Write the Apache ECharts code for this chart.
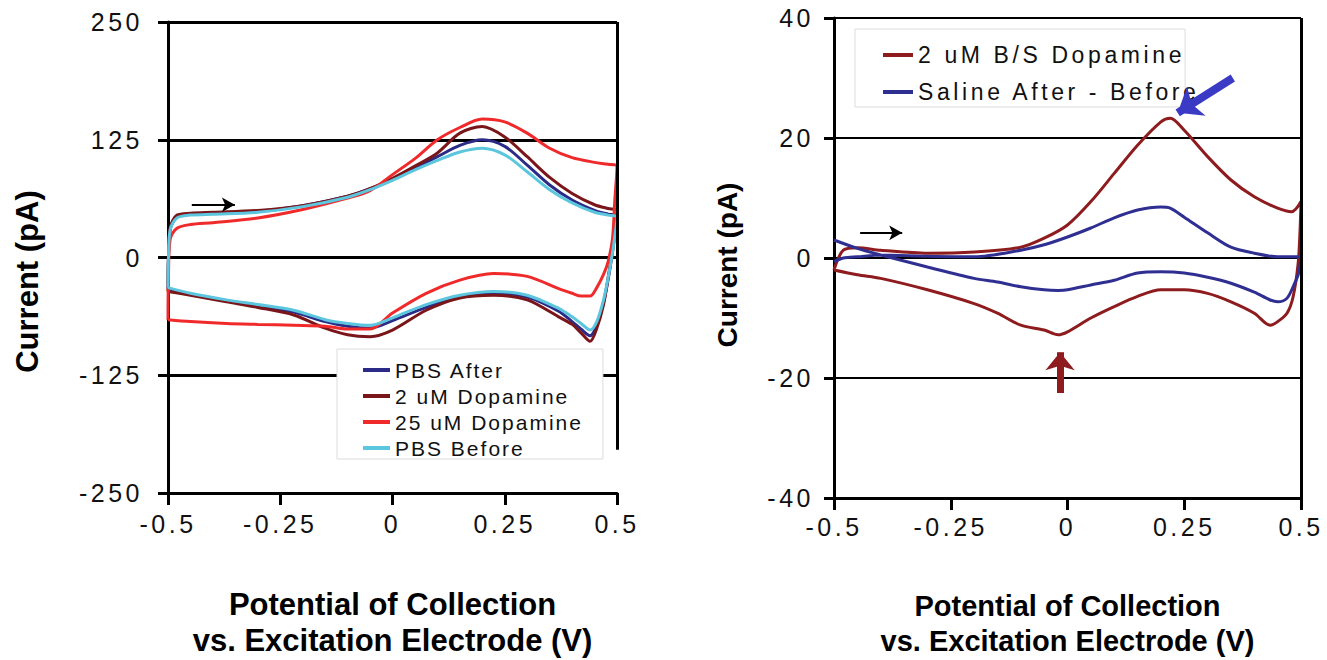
<!DOCTYPE html>
<html>
<head>
<meta charset="utf-8">
<script src="https://cdn.jsdelivr.net/npm/echarts@6/dist/echarts.min.js"></script>
<style>
  html, body { margin: 0; padding: 0; background: #fff; }
  #main { width: 1327px; height: 660px; }
  /* the original tick labels and legends are letter-spaced */
  #main svg text[style*="25px"] { letter-spacing: 3.5px; }
  #main svg text[style*="21px"] { letter-spacing: 2px; }
  #main svg text[style*="23px"] { letter-spacing: 3.6px; }
  #main svg text[style*="bold"] { letter-spacing: 0; }
</style>
</head>
<body>
<div id="main"></div>
<script>
// ---- left panel: potentials (V) of the sweep up and back down
const fwdL = [-0.5, -0.499, -0.495, -0.48, -0.45, -0.4, -0.3, -0.2, -0.1, -0.05, 0, 0.05, 0.1, 0.15, 0.2, 0.25, 0.3, 0.35, 0.4, 0.45, 0.48, 0.5]
const revL = [0.5, 0.495, 0.49, 0.48, 0.47, 0.455, 0.44, 0.42, 0.4, 0.37, 0.3, 0.225, 0.15, 0.075, 0, -0.05, -0.1, -0.15, -0.22, -0.3, -0.37, -0.45, -0.5]

// currents (pA)
const pbsAfterUp = [-32, 0, 30, 43, 46, 47, 49, 55, 65, 73, 83, 95, 107, 119, 125, 118, 98, 77, 61, 50, 46, 44]
const pbsAfterDown = [44, 24, 6, -24, -48, -72, -83, -76, -68, -57, -42, -38, -42, -53, -67, -75, -73, -68, -58, -51, -46, -39, -33]
const dopa2Up = [-36, 0, 32, 45, 47, 48, 50, 55, 65, 73, 84, 97, 111, 132, 139, 128, 107, 85, 68, 56, 52, 50]
const dopa2Down = [50, 28, 8, -22, -50, -75, -89, -80, -71, -63, -45, -40, -43, -56, -77, -84, -82, -75, -61, -53, -47, -40, -36]
const dopa25Up = [-66, -20, 20, 31, 35, 37, 42, 51, 63, 71, 88, 105, 125, 138, 147, 144, 132, 116, 106, 101, 99, 97]
const dopa25Down = [97, 60, 20, -5, -18, -32, -41, -41, -38, -33, -20, -17, -24, -38, -59, -76, -76, -73, -72, -71, -70, -68, -66]
const pbsBeforeUp = [-32, 0, 30, 42, 45, 46, 48, 54, 64, 72, 82, 93, 103, 112, 116, 109, 91, 72, 58, 48, 45, 43]
const pbsBeforeDown = [43, 22, 5, -22, -45, -68, -77, -70, -63, -54, -40, -36, -40, -50, -64, -72, -70, -66, -56, -50, -45, -38, -32]

// ---- right panel
const fwdR = [-0.5, -0.48, -0.45, -0.4, -0.3, -0.2, -0.1, -0.05, 0, 0.05, 0.1, 0.15, 0.2, 0.22, 0.25, 0.3, 0.35, 0.4, 0.45, 0.48, 0.5]
const revR = [0.5, 0.498, 0.494, 0.483, 0.47, 0.45, 0.434, 0.4, 0.35, 0.3, 0.25, 0.2, 0.15, 0.1, 0.05, 0, -0.02, -0.05, -0.1, -0.15, -0.2, -0.3, -0.4, -0.45, -0.5]

const bsUp = [-2, 1.3, 1.7, 1.3, 0.8, 1.0, 1.8, 3.3, 5.5, 9.4, 14.1, 18.8, 22.7, 23.3, 21.3, 16.9, 13, 10.2, 8.3, 7.7, 9.4]
const bsDown = [9.4, 4.7, -0.8, -6.5, -9.2, -10.6, -11.2, -9.2, -7.3, -5.9, -5.3, -5.3, -6.4, -8.1, -10, -12.3, -12.8, -12, -11.2, -9.2, -7.6, -5.3, -3.4, -2.8, -2]
const salineUp = [-0.6, 0, 0.2, 0.5, 0.3, 0.2, 1.3, 2.2, 3.5, 5, 6.7, 8, 8.5, 8.3, 6.8, 4.2, 1.8, 0.8, 0.2, 0.2, 0.2]
const salineDown = [0.2, -1.2, -2.8, -4.8, -6.7, -7.3, -7, -5.7, -4.2, -3.2, -2.5, -2.3, -2.5, -3.7, -4.5, -5.3, -5.4, -5.3, -4.8, -4, -3.4, -1.5, 0.5, 1.6, 3]

// annotation arrows, [from, to] in axis units
const sweepArrowL = [[-0.447, 56], [-0.351, 56]]
const sweepArrowR = [[-0.444, 4.2], [-0.354, 4.2]]
const oxPeakArrow = [[0.354, 30], [0.236, 24.2]]
const redPeakArrow = [[-0.016, -22.5], [-0.016, -15.7]]

const font = 'Liberation Sans, Arial, sans-serif'

function loop (up, down, iUp, iDown) {
  return up.map((v, i) => [v, iUp[i]]).concat(down.map((v, i) => [v, iDown[i]]))
}

function curve (name, color, idx, data) {
  return {
    name: name,
    type: 'line',
    xAxisIndex: idx,
    yAxisIndex: idx,
    data: data,
    color: color,
    showSymbol: false,
    symbol: 'none',
    smooth: 0.3,
    lineStyle: { color: color, width: 3 },
    silent: true
  }
}

function arrow (idx, pts, color, width, size) {
  return {
    type: 'line',
    xAxisIndex: idx,
    yAxisIndex: idx,
    data: [],
    silent: true,
    z: 5,
    markLine: {
      silent: true,
      symbol: ['none', size ? 'arrow' : 'none'],
      symbolSize: size || 0,
      label: { show: false },
      lineStyle: { color: color, width: width, type: 'solid' },
      data: [[{ coord: pts[0] }, { coord: pts[1] }]]
    }
  }
}

function xAxis (idx, margin, gap, fs, lh) {
  return {
    gridIndex: idx,
    type: 'value',
    min: -0.5,
    max: 0.5,
    interval: 0.25,
    axisLine: { onZero: false, lineStyle: { color: '#000', width: 3 } },
    axisTick: { length: 12, lineStyle: { color: '#000', width: 3 } },
    axisLabel: { margin: margin, fontSize: 25, color: '#111', fontFamily: font },
    splitLine: { show: false },
    name: 'Potential of Collection\nvs. Excitation Electrode (V)',
    nameLocation: 'middle',
    nameGap: gap,
    nameTextStyle: { fontSize: fs, fontWeight: 'bold', color: '#000', fontFamily: font, lineHeight: lh, verticalAlign: 'top' }
  }
}

function yAxis (idx, min, max, step, margin, gap, fs, shift, gw) {
  return {
    gridIndex: idx,
    type: 'value',
    min: min,
    max: max,
    interval: step,
    axisLine: { onZero: false, lineStyle: { color: '#000', width: 3 } },
    axisTick: { length: 10, lineStyle: { color: '#000', width: 3 } },
    axisLabel: { margin: margin, fontSize: 25, color: '#111', fontFamily: font },
    splitLine: { lineStyle: { color: '#000', width: gw } },
    name: 'Current (pA)',
    nameLocation: 'middle',
    nameGap: gap,
    nameTextStyle: { fontSize: fs, fontWeight: 'bold', color: '#000', fontFamily: font, padding: [0, shift, 0, 0] }
  }
}

const chart = echarts.init(document.getElementById('main'), null, { renderer: 'svg' })

chart.setOption({
  animation: false,
  backgroundColor: '#fff',
  grid: [
    { left: 168, right: 710, top: 22, bottom: 167, outerBoundsMode: 'none' },
    { left: 834, right: 26, top: 18, bottom: 162, outerBoundsMode: 'none' }
  ],
  xAxis: [xAxis(0, 18, 93, 31, 36), xAxis(1, 16, 90, 29, 35)],
  yAxis: [
    yAxis(0, -250, 250, 125, 25, 125, 31, 48, 3),
    yAxis(1, -40, 40, 20, 20, 93, 28, 14, 2)
  ],
  legend: [
    {
      data: ['PBS After', '2 uM Dopamine', '25 uM Dopamine', 'PBS Before'],
      orient: 'vertical',
      left: 337,
      top: 349,
      icon: 'rect',
      itemWidth: 27,
      itemHeight: 4,
      itemGap: 4,
      padding: [10, 48, 0, 26],
      backgroundColor: '#fff',
      borderColor: '#dcdcdc',
      borderWidth: 1,
      selectedMode: false,
      textStyle: { fontSize: 21, lineHeight: 22, color: '#111', fontFamily: font }
    },
    {
      data: ['2 uM B/S Dopamine', 'Saline After - Before'],
      orient: 'vertical',
      left: 855,
      top: 29,
      icon: 'rect',
      itemWidth: 30,
      itemHeight: 4,
      itemGap: 7,
      padding: [11, 60, 0, 28],
      backgroundColor: '#fff',
      borderColor: '#dcdcdc',
      borderWidth: 1,
      selectedMode: false,
      textStyle: { fontSize: 23, lineHeight: 30, color: '#111', fontFamily: font }
    }
  ],
  series: [
    curve('PBS After', '#2b2a86', 0, loop(fwdL, revL, pbsAfterUp, pbsAfterDown)),
    curve('2 uM Dopamine', '#7a1619', 0, loop(fwdL, revL, dopa2Up, dopa2Down)),
    curve('25 uM Dopamine', '#f02a2a', 0, loop(fwdL, revL, dopa25Up, dopa25Down)),
    curve('PBS Before', '#5cc6de', 0, loop(fwdL, revL, pbsBeforeUp, pbsBeforeDown)),
    curve('2 uM B/S Dopamine', '#8e1c1e', 1, loop(fwdR, revR, bsUp, bsDown)),
    curve('Saline After - Before', '#2f2f92', 1, loop(fwdR, revR, salineUp, salineDown)),
    // frame pieces on the right side
    arrow(0, [[0.5, 250], [0.5, -204]], '#000', 3),
    arrow(1, [[0.5, 40], [0.5, -40]], '#000', 3),
    // annotations
    arrow(0, sweepArrowL, '#000', 2, [11, 13]),
    arrow(1, sweepArrowR, '#000', 2, [11, 13]),
    arrow(1, oxPeakArrow, '#3a3ac4', 8, [26, 22]),
    arrow(1, redPeakArrow, '#8e1c1e', 7, [22, 18])
  ]
})
</script>
</body>
</html>
